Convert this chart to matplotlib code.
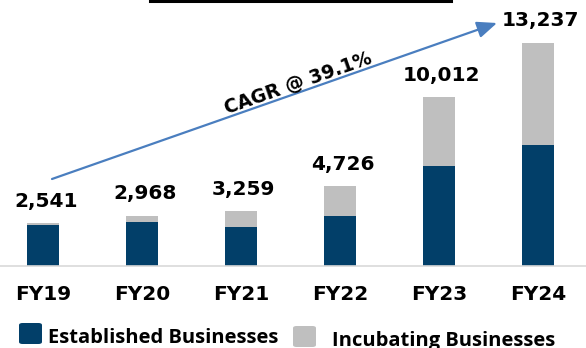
import matplotlib
matplotlib.use("Agg")
import matplotlib.pyplot as plt
from matplotlib.patches import FancyBboxPatch
import numpy as np

plt.rcParams['font.family'] = ['DejaVu Sans']

# revenue by year, split into established and incubating businesses
years = ['FY19', 'FY20', 'FY21', 'FY22', 'FY23', 'FY24']
totals = [2541, 2968, 3259, 4726, 10012, 13237]
established = [2410, 2600, 2310, 2960, 5900, 7200]
incubating = [t - e for t, e in zip(totals, established)]
cagr_label = 'CAGR @ 39.1%'

navy = '#023f69'
grey = '#bfbfbf'
arrow_blue = '#4a7ebf'

fig = plt.figure(figsize=(5.86, 3.48), dpi=100)
ax = fig.add_axes([0, 0.2356, 1, 0.7644])

x = np.arange(len(years))
ax.bar(x, established, width=0.33, color=navy, edgecolor='none')
ax.bar(x, incubating, width=0.33, bottom=established, color=grey, edgecolor='none')

for xi, t in zip(x, totals):
    ax.annotate(f'{t:,}', (xi, t), xytext=(2, 9), textcoords='offset points',
                ha='center', va='bottom', fontsize=14.5, fontweight='bold')

ax.set_xlim(-0.434, 5.485)
ax.set_ylim(0, 15768)
for s in ['top', 'right', 'left']:
    ax.spines[s].set_visible(False)
ax.spines['bottom'].set_color('#d9d9d9')
ax.spines['bottom'].set_linewidth(1.2)
ax.set_yticks([])
ax.set_xticks(x)
ax.set_xticklabels(years, fontsize=14.5, fontweight='bold')
ax.tick_params(axis='x', length=0, pad=14)

# growth arrow from the first bar to the last
x0, y0 = 52 / 586, 1 - 179 / 348
x1, y1 = 497 / 586, 1 - 23 / 348
ax.annotate('', xy=(x1, y1), xytext=(x0, y0), xycoords='figure fraction',
            textcoords='figure fraction',
            arrowprops=dict(arrowstyle='-|>,head_length=1.2,head_width=0.5',
                            color=arrow_blue, lw=1.6, shrinkA=0, shrinkB=0))
angle = np.degrees(np.arctan2(156 * 1.0, 445 * 1.0))
fig.text(298 / 586, 1 - 83 / 348, cagr_label, rotation=angle, rotation_mode='anchor',
         ha='center', va='center', fontsize=13.5, fontweight='bold')

# underline of the heading cut by the top edge
fig.add_artist(plt.Line2D([150 / 586, 451 / 586], [1 - 1 / 348, 1 - 1 / 348],
                          color='black', lw=2.2, transform=fig.transFigure))

# legend drawn by hand
legend_items = [('Established Businesses', navy, 19, 323, 48, 343),
                ('Incubating Businesses', grey, 293, 326, 332, 346)]
for label, col, bx, by, tx, ty in legend_items:
    fig.add_artist(FancyBboxPatch((bx / 586, 1 - (by + 21) / 348), 23 / 586, 21 / 348,
                                  boxstyle='round,pad=0,rounding_size=0.006',
                                  transform=fig.transFigure, facecolor=col,
                                  edgecolor='none'))
    fig.text(tx / 586, 1 - ty / 348, label, ha='left', va='baseline',
             fontsize=14.5, fontweight='bold', family=['Open Sans', 'DejaVu Sans'])

fig.savefig('out.png', dpi=100)
